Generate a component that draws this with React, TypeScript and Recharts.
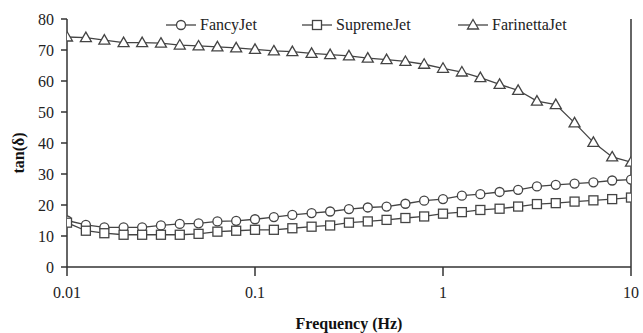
import React from "react";
import { LineChart, Line, XAxis, YAxis, ReferenceLine } from "recharts";

const frequencies = [
  0.01, 0.0126, 0.0158, 0.02, 0.0251, 0.0316, 0.0398, 0.0501, 0.0631, 0.0794,
  0.1, 0.126, 0.158, 0.2, 0.251, 0.316, 0.398, 0.501, 0.631, 0.794,
  1, 1.26, 1.58, 2, 2.51, 3.16, 3.98, 5.01, 6.31, 7.94, 10,
];

const fancyJet = [
  15.0, 13.6, 12.8, 12.8, 12.8, 13.4, 13.9, 14.1, 14.7, 14.9,
  15.4, 16.1, 16.8, 17.4, 17.9, 18.7, 19.2, 19.5, 20.4, 21.4,
  21.9, 23.0, 23.5, 24.2, 24.9, 26.0, 26.5, 26.9, 27.3, 27.9, 28.2,
];

const supremeJet = [
  14.3, 11.7, 10.9, 10.4, 10.4, 10.4, 10.4, 10.7, 11.4, 11.7,
  12.0, 12.0, 12.5, 13.0, 13.4, 14.3, 14.7, 15.2, 15.8, 16.3,
  17.2, 17.7, 18.4, 18.8, 19.5, 20.3, 20.6, 21.1, 21.5, 21.9, 22.4,
];

const farinettaJet = [
  74.2, 74.0, 73.2, 72.4, 72.4, 72.2, 71.6, 71.3, 71.0, 70.7,
  70.2, 69.7, 69.5, 68.9, 68.5, 68.1, 67.4, 66.9, 66.3, 65.4,
  64.1, 62.9, 61.1, 58.9, 57.0, 53.5, 52.4, 46.5, 40.2, 35.5, 33.8,
];

const xTicks = [0.01, 0.1, 1, 10];
const yTicks = [0, 10, 20, 30, 40, 50, 60, 70, 80];

const data = frequencies.map((f, i) => ({
  f,
  fancy: fancyJet[i],
  supreme: supremeJet[i],
  farinetta: farinettaJet[i],
}));

const INK = "#333";
const LINE = "#444";
const FONT = "'Liberation Serif', 'Times New Roman', serif";

const SquareDot = (props: any) => {
  const { cx, cy, index } = props;
  if (cx == null || cy == null) return null;
  return <rect key={`sq-${index}`} x={cx - 4.5} y={cy - 4.5} width={9} height={9} fill="#fff" stroke={LINE} strokeWidth={1.3} />;
};

const TriDot = (props: any) => {
  const { cx, cy, index } = props;
  if (cx == null || cy == null) return null;
  const pts = `${cx},${cy - 5.5} ${cx + 5.5},${cy + 4} ${cx - 5.5},${cy + 4}`;
  return <polygon key={`tr-${index}`} points={pts} fill="#fff" stroke={LINE} strokeWidth={1.3} />;
};

function LegendIcon({ kind }: { kind: string }) {
  return (
    <svg width={32} height={14} style={{ verticalAlign: "middle" }}>
      <line x1={1} y1={7} x2={31} y2={7} stroke={LINE} strokeWidth={1.3} />
      {kind === "circle" && <circle cx={16} cy={7} r={4.5} fill="#fff" stroke={LINE} strokeWidth={1.3} />}
      {kind === "square" && <rect x={11.5} y={2.5} width={9} height={9} fill="#fff" stroke={LINE} strokeWidth={1.3} />}
      {kind === "triangle" && <polygon points="16,1.5 21.5,11 10.5,11" fill="#fff" stroke={LINE} strokeWidth={1.3} />}
    </svg>
  );
}

const legendItems = [
  { name: "FancyJet", kind: "circle", left: 165 },
  { name: "SupremeJet", kind: "square", left: 301 },
  { name: "FarinettaJet", kind: "triangle", left: 457 },
];

const YLabel = (props: any) => {
  const vb = props.viewBox || {};
  const cy = (vb.y || 0) + (vb.height || 0) / 2 + 10;
  const x = 18;
  return (
    <text x={x} y={cy} transform={`rotate(-90 ${x} ${cy})`} textAnchor="middle" dominantBaseline="central"
      fill="#111" fontSize={16} fontWeight="bold" fontFamily={FONT}>
      tan(δ)
    </text>
  );
};

export default function App() {
  return (
    <div style={{ position: "relative", width: 643, height: 333, background: "#fff" }}>
      <style>{`body{margin:0}`}</style>
      <LineChart width={643} height={333} data={data} margin={{ top: 19, right: 12, left: 0, bottom: 0 }}>
        <XAxis
          dataKey="f"
          type="number"
          scale="log"
          domain={[0.01, 10]}
          ticks={xTicks}
          allowDataOverflow
          tickFormatter={(v) => String(v)}
          height={66}
          stroke={INK}
          strokeWidth={1.5}
          tickSize={9}
          tickMargin={11}
          tick={{ fill: "#222", fontSize: 16, fontFamily: FONT }}
          label={{ value: "Frequency (Hz)", position: "insideBottom", offset: 4, fill: "#111", fontSize: 16, fontWeight: "bold", fontFamily: FONT }}
        />
        <YAxis
          domain={[0, 80]}
          ticks={yTicks}
          width={67}
          stroke={INK}
          strokeWidth={1.5}
          tickSize={6}
          tickMargin={7}
          tick={{ fill: "#222", fontSize: 16, fontFamily: FONT }}
          label={<YLabel />}
        />
        <ReferenceLine x={10} stroke={INK} strokeWidth={1.5} />
        <Line type="linear" dataKey="fancy" stroke={LINE} strokeWidth={1.3} isAnimationActive={false}
          dot={{ r: 4.5, fill: "#fff", stroke: LINE, strokeWidth: 1.3 }} />
        <Line type="linear" dataKey="supreme" stroke={LINE} strokeWidth={1.3} isAnimationActive={false} dot={SquareDot} />
        <Line type="linear" dataKey="farinetta" stroke={LINE} strokeWidth={1.3} isAnimationActive={false} dot={TriDot} />
      </LineChart>
      {legendItems.map((it) => (
        <div key={it.name} style={{ position: "absolute", top: 14, left: it.left, fontFamily: FONT, fontSize: 16, color: "#222", whiteSpace: "nowrap", lineHeight: "20px" }}>
          <LegendIcon kind={it.kind} />
          <span style={{ marginLeft: 3, verticalAlign: "middle" }}>{it.name}</span>
        </div>
      ))}
    </div>
  );
}
